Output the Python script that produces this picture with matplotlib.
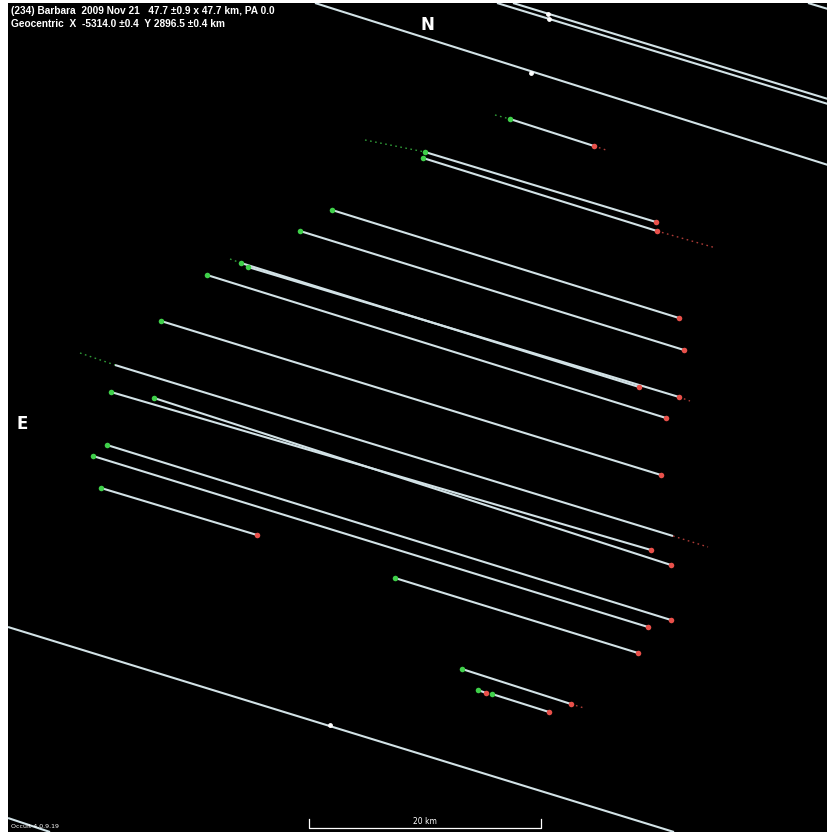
import matplotlib
matplotlib.use("Agg")
import matplotlib.pyplot as plt
import numpy as np

# Plane-of-sky coordinates (plot units, y grows downward)
# Observed chords: disappearance (start) and reappearance (end) points
chord_x0 = [510, 425, 423, 332, 300, 241, 248, 207, 161, 115, 111, 154, 107, 93, 101, 395, 462, 478, 492]
chord_y0 = [119, 152, 158, 210, 231, 263, 267, 275, 321, 365, 392, 398, 445, 456, 488, 578, 669, 690, 694]
chord_x1 = [594, 656, 657, 679, 684, 639, 679, 666, 661, 673, 651, 671, 671, 648, 257, 638, 571, 486, 549]
chord_y1 = [146, 222, 231, 318, 350, 387, 397, 418, 475, 536, 550, 565, 620, 627, 535, 653, 704, 693, 712]
# Whether each chord shows a start / end dot
has_start = [1, 1, 1, 1, 1, 1, 1, 1, 1, 0, 1, 1, 1, 1, 1, 1, 1, 1, 1]
has_end   = [1, 1, 1, 1, 1, 1, 1, 1, 1, 0, 1, 1, 1, 1, 1, 1, 1, 1, 1]

# Timing-uncertainty extensions (dotted): start side (green) and end side (red)
pre_x0 = [495, 365, 230, 80]
pre_y0 = [115, 140, 259, 353]
pre_x1 = [510, 425, 241, 115]
pre_y1 = [119, 152, 263, 365]
post_x0 = [594, 657, 673, 679, 571]
post_y0 = [146, 231, 536, 397, 704]
post_x1 = [606, 716, 708, 690, 584]
post_y1 = [150, 248, 547, 401, 708]

# Negative (miss) chords crossing the whole field
miss_x0 = [497, 513, 315, 808, 8, 8]
miss_y0 = [3, 3, 3, 3, 627, 818]
miss_x1 = [828, 828, 828, 828, 674, 50]
miss_y1 = [104, 99, 165, 9, 832, 832]
miss_mark_x = [548, 549, 531, 330]
miss_mark_y = [14, 19, 73, 725]

title_line1 = "(234) Barbara  2009 Nov 21   47.7 \u00b10.9 x 47.7 km, PA 0.0"
title_line2 = "Geocentric  X  -5314.0 \u00b10.4  Y 2896.5 \u00b10.4 km"
scale_label = "20 km"
scale_x = [309, 541]
version = "Occult 4.0.9.19"

W, H = 828, 832
fig = plt.figure(figsize=(W / 100, H / 100), dpi=100, facecolor="white")
ax = fig.add_axes([8 / W, 0, (W - 8) / W, (H - 3) / H])
ax.set_facecolor("black")
ax.set_xlim(8, W)
ax.set_ylim(H, 3)
ax.set_xticks([])
ax.set_yticks([])
for sp in ax.spines.values():
    sp.set_visible(False)

line_col = "#d2e2e6"
green = "#3fd04a"
red = "#e8504a"

for x0, y0, x1, y1 in zip(miss_x0, miss_y0, miss_x1, miss_y1):
    ax.plot([x0, x1], [y0, y1], color=line_col, lw=1.5, solid_capstyle="butt")
ax.scatter(miss_mark_x, miss_mark_y, s=6, color="white", zorder=3)

for x0, y0, x1, y1 in zip(pre_x0, pre_y0, pre_x1, pre_y1):
    ax.plot([x0, x1], [y0, y1], color=green, lw=1.0, ls=(0, (1.2, 2.5)), alpha=0.75)
for x0, y0, x1, y1 in zip(post_x0, post_y0, post_x1, post_y1):
    ax.plot([x0, x1], [y0, y1], color=red, lw=1.0, ls=(0, (1.2, 2.5)), alpha=0.75)

for x0, y0, x1, y1, s, e in zip(chord_x0, chord_y0, chord_x1, chord_y1, has_start, has_end):
    ax.plot([x0, x1], [y0, y1], color=line_col, lw=1.5, solid_capstyle="butt", zorder=2)
    if s:
        ax.scatter([x0], [y0], s=16, color=green, zorder=4, linewidths=0)
    if e:
        ax.scatter([x1], [y1], s=16, color=red, zorder=4, linewidths=0)

ax.text(11, 6, title_line1, color="white", fontsize=7.3, fontweight="bold",
        va="top", ha="left", family="Liberation Sans")
ax.text(11, 19, title_line2, color="white", fontsize=7.3, fontweight="bold",
        va="top", ha="left", family="Liberation Sans")
ax.text(427, 25, "N", color="white", fontsize=12, fontweight="bold", ha="center", va="center")
ax.text(22, 424, "E", color="white", fontsize=12, fontweight="bold", ha="center", va="center")

ax.plot([scale_x[0], scale_x[0], scale_x[1], scale_x[1]], [819, 828, 828, 819],
        color="white", lw=0.9)
ax.text(np.mean(scale_x), 826, scale_label, color="white", fontsize=5.5,
        ha="center", va="bottom")
ax.text(11, 829, version, color="white", fontsize=4.5, ha="left", va="bottom")

fig.savefig("out.png", dpi=100, facecolor=fig.get_facecolor())
